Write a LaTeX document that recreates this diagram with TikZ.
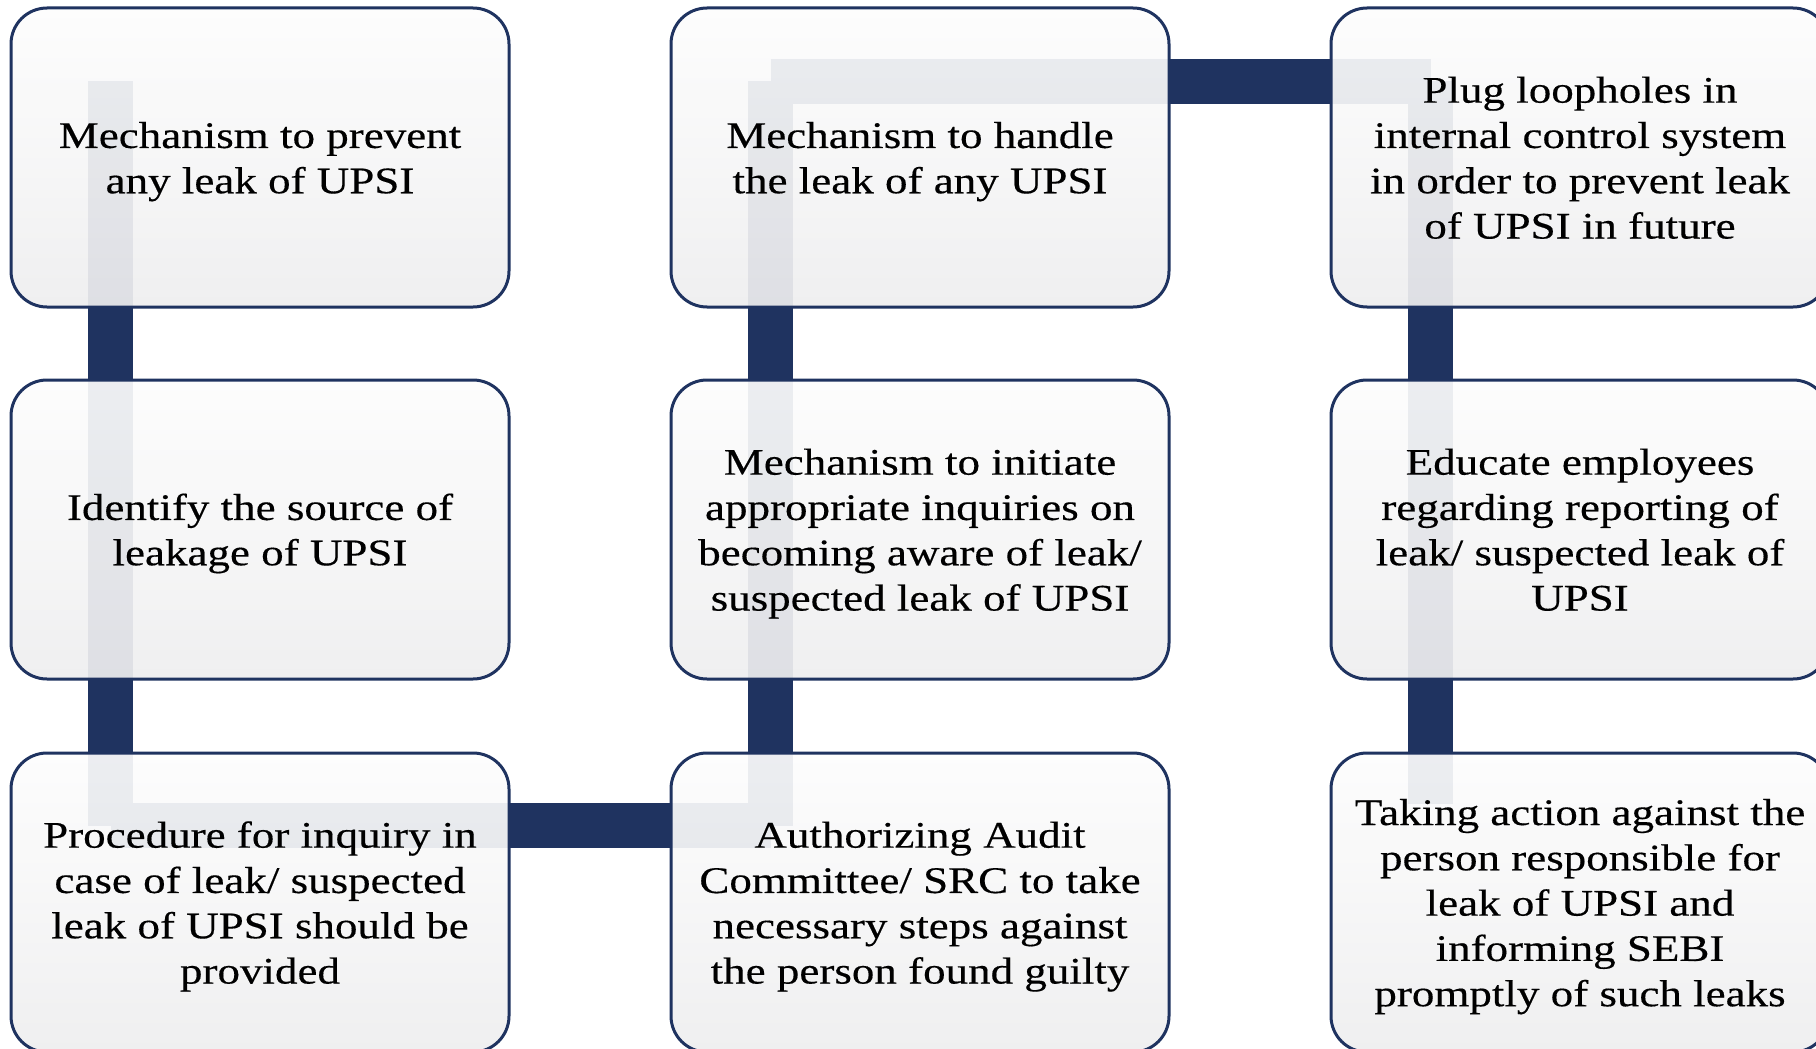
\documentclass[tikz,border=0pt]{standalone}
\usepackage{fontspec}
\setmainfont{Liberation Serif}[FakeStretch=1.2,FakeBold=0.35]
\usetikzlibrary{calc,backgrounds}

\definecolor{navy}{RGB}{31,51,96}
\definecolor{boxtop}{RGB}{253,253,253}
\definecolor{boxbot}{RGB}{238,238,239}

% struts: room above the first line and below the last one, so every
% text block sits at the same height whatever its letters
\newcommand\firstline{\rule{0pt}{34.5pt}}
\newcommand\lastline{\rule[-8.3pt]{0pt}{8.3pt}}

\tikzset{
  stepbox/.style={
    draw=navy, line width=3pt, rounded corners=36pt,
    top color=boxtop, bottom color=boxbot,
    fill opacity=0.925, text opacity=1,
    minimum width=498pt, minimum height=299pt,
    inner sep=0pt, align=center,
    font=\fontsize{37.5}{45.3}\selectfont
  },
  link/.style={draw=navy, line width=45pt, line cap=butt}
}

\begin{document}
\begin{tikzpicture}[x=1pt, y=-1pt]
\useasboundingbox (0,0) rectangle (1816,1049);

% column 1
\node[stepbox] (n1) at (260,157.5) {\firstline Mechanism to prevent\\any leak of UPSI\lastline};
\node[stepbox] (n2) at (260,529.5) {\firstline Identify the source of\\leakage of UPSI\lastline};
\node[stepbox] (n3) at (260,902.5) {\firstline Procedure for inquiry in\\case of leak/ suspected\\leak of UPSI should be\\provided\lastline};
% column 2
\node[stepbox] (n4) at (920,902.5) {\firstline Authorizing Audit\\Committee/ SRC to take\\necessary steps against\\the person found guilty\lastline};
\node[stepbox] (n5) at (920,529.5) {\firstline Mechanism to initiate\\appropriate inquiries on\\becoming aware of leak/\\suspected leak of UPSI\lastline};
\node[stepbox] (n6) at (920,157.5) {\firstline Mechanism to handle\\the leak of any UPSI\lastline};
% column 3
\node[stepbox] (n7) at (1580,157.5) {\firstline Plug loopholes in\\internal control system\\in order to prevent leak\\of UPSI in future\lastline};
\node[stepbox] (n8) at (1580,529.5) {\firstline Educate employees\\regarding reporting of\\leak/ suspected leak of\\UPSI\lastline};
\node[stepbox] (n9) at (1580,902.5) {\firstline Taking action against the\\person responsible for\\leak of UPSI and\\informing SEBI\\promptly of such leaks\lastline};

% bends of the snake-shaped connector
\coordinate (k1) at ($(n1.north west)+(101,75)$);
\coordinate (k3) at ($(n3.north west)+(101,74)$);
\coordinate (k4) at ($(n4.north west)+(101,74)$);
\coordinate (k6) at ($(n6.north west)+(101,75)$);
\coordinate (k7) at ($(n7.north west)+(101,75)$);
\coordinate (k9) at ($(n9.north west)+(101,52)$);

% connector runs behind the boxes, one straight piece at a time
\begin{scope}[on background layer]
  \draw[link] (k1) -- (k3);
  \draw[link] (k3) -- (k4);
  \draw[link] (k4) -- (k6);
  \draw[link] (k6) -- (k7);
  \draw[link] (k7) -- (k9);
\end{scope}
\end{tikzpicture}
\end{document}
